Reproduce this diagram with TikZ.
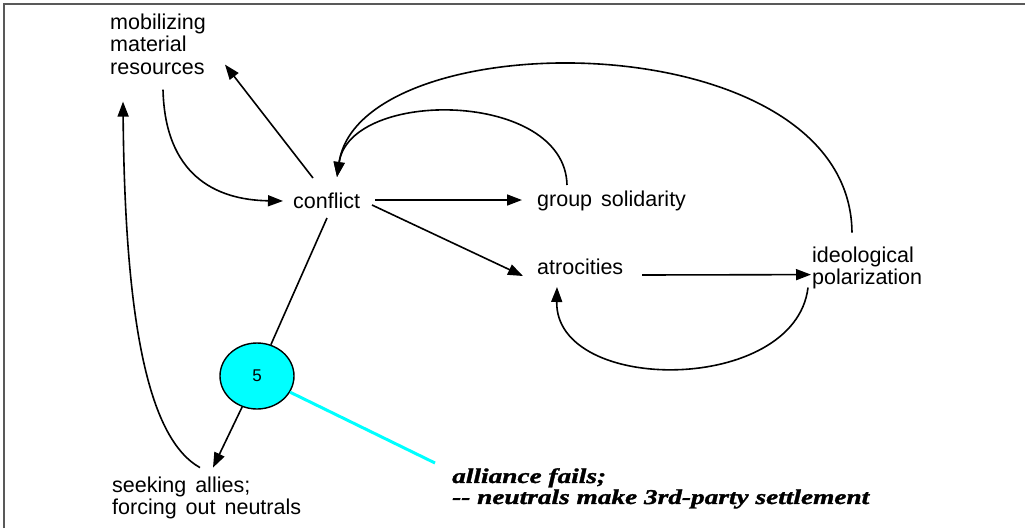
\documentclass[tikz,border=0pt]{standalone}
\usepackage{fontspec}
\setmainfont{Liberation Sans}
\newfontfamily\alliancefont[BoldItalicFeatures={FakeStretch=1.3,FakeBold=1.5}]{Liberation Serif}
\newcommand\widewords{\spaceskip=9pt plus 0pt minus 0pt\relax}
\definecolor{aqua}{RGB}{0,255,255}
\usetikzlibrary{arrows.meta,shapes.geometric}
\begin{document}
\begin{tikzpicture}[x=1pt,y=-1pt,
  lbl/.style={inner sep=0pt, align=left, font=\fontsize{21.5}{22.5}\selectfont\widewords},
  conn/.style={line width=1.6pt, -{Triangle[length=15pt,width=11pt]}},
  plainline/.style={line width=1.6pt},
  frame/.style={draw=black!65, line width=2pt},
  noteline/.style={draw=aqua, line width=3pt},
  badge/.style={ellipse, draw=black, fill=aqua, line width=1.4pt, minimum width=74pt, minimum height=66pt, inner sep=0pt, font=\fontsize{17}{17}\selectfont},
  note/.style={inner sep=0pt, align=left, font=\alliancefont\bfseries\itshape\fontsize{21}{21}\selectfont}]
\useasboundingbox (0,0) rectangle (1025,528);
\draw[frame] (4,528) -- (4,4) -- (1025,4);

\node[lbl, anchor=north west] (mob) at (110,13.6) {mobilizing\\material\\resources};
\node[lbl, anchor=base west] (conflict) at (293,208) {conflict};
\node[lbl, anchor=base west] (gs) at (537,206) {group solidarity};
\node[lbl, anchor=base west] (atro) at (537,274) {atrocities};
\node[lbl, anchor=north west] (ideo) at (812,246.6) {ideological\\polarization};
\node[lbl, anchor=north west] (seek) at (112,476.6) {seeking allies;\\forcing out neutrals};
\node[badge] (five) at (257,376) {5};
\node[note, anchor=north west] (alliance) at (452,468) {alliance fails;\\-{}- neutrals make 3rd-party settlement};

% conflict -> mobilizing
\draw[conn] ([shift={(20,-30)}]conflict.base west) -- ([shift={(115,51)}]mob.north west);
% mobilizing -> conflict
\draw[conn] ([shift={(53,76)}]mob.north west) .. controls +(2,85) and +(-68,-1) .. ([shift={(-10,-7)}]conflict.base west);
% seeking -> mobilizing
\draw[conn] ([shift={(88,-9)}]seek.north west) .. controls +(-50,-28) and +(2,228) .. ([shift={(13,88)}]mob.north west);
% conflict -- 5
\draw[plainline] ([shift={(34,10)}]conflict.base west) -- (five);
% 5 -> seeking
\draw[conn] (five) -- ([shift={(101,-9)}]seek.north west);
% conflict -> group solidarity
\draw[conn] ([shift={(82,-8)}]conflict.base west) -- ([shift={(-15,-6)}]gs.base west);
% conflict -> atrocities
\draw[conn] ([shift={(79,-3)}]conflict.base west) -- ([shift={(-14,2)}]atro.base west);
% group solidarity -> conflict
\draw[conn] ([shift={(30,-21)}]gs.base west) .. controls +(-2,-95) and +(13,-89) .. ([shift={(44,-31)}]conflict.base west);
% ideological -> conflict
\draw[conn] ([shift={(40,-14)}]ideo.north west) .. controls +(-2,-213) and +(23,-157) .. ([shift={(44,-31)}]conflict.base west);
% atrocities -> ideological
\draw[conn] ([shift={(105,1)}]atro.base west) -- ([shift={(-1,28)}]ideo.north west);
% ideological -> atrocities
\draw[conn] ([shift={(-4,41)}]ideo.north west) .. controls +(-13,107) and +(-2,108) .. ([shift={(20,13)}]atro.base west);
% note line
\draw[noteline] (five) -- ([shift={(-17,-5)}]alliance.north west);
\end{tikzpicture}
\end{document}
